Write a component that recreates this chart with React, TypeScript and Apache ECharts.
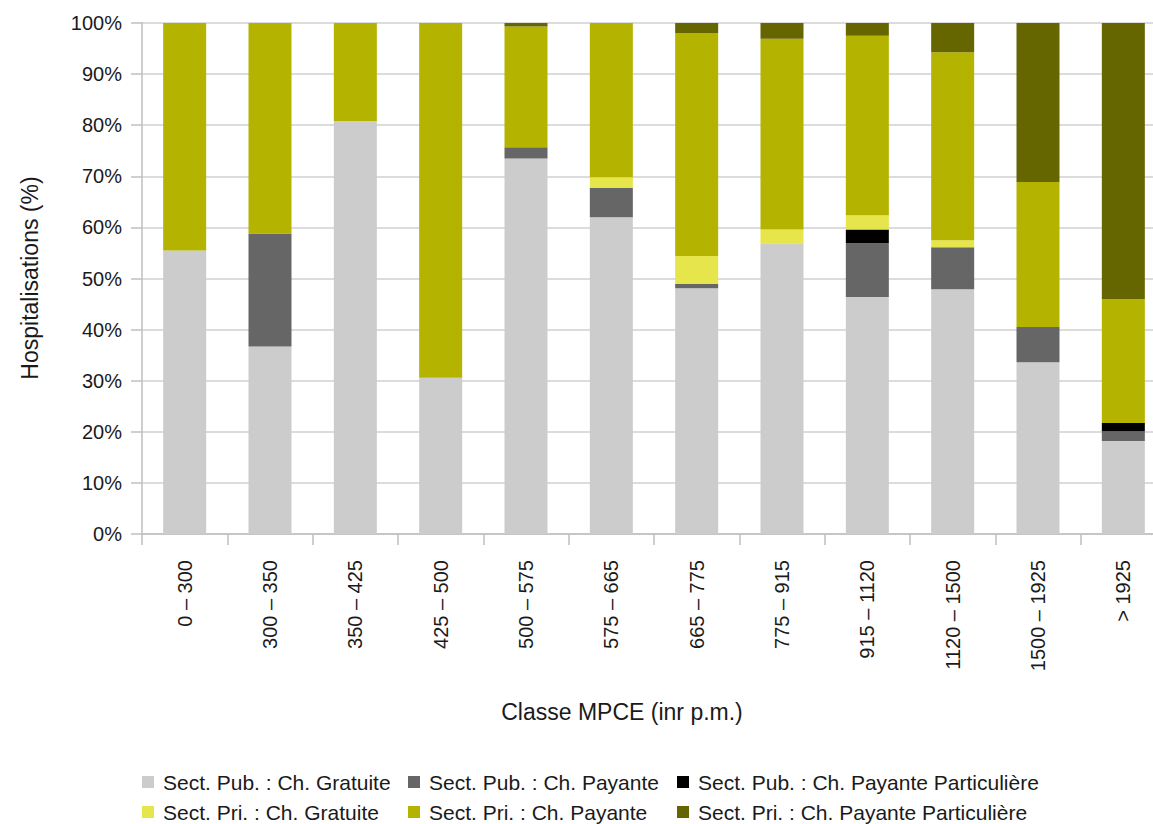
import React, { useEffect, useRef } from "react";
import * as echarts from "echarts";

const categories = [
  "0 – 300", "300 – 350", "350 – 425", "425 – 500", "500 – 575", "575 – 665",
  "665 – 775", "775 – 915", "915 – 1120", "1120 – 1500", "1500 – 1925", "> 1925",
];

const seriesNames = [
  "Sect. Pub. : Ch. Gratuite",
  "Sect. Pub. : Ch. Payante",
  "Sect. Pub. : Ch. Payante Particulière",
  "Sect. Pri. : Ch. Gratuite",
  "Sect. Pri. : Ch. Payante",
  "Sect. Pri. : Ch. Payante Particulière",
];

const pubGratuite = [55.5, 36.7, 80.8, 30.6, 73.5, 62.0, 48.1, 56.9, 46.4, 47.9, 33.6, 18.2];
const pubPayante = [0, 22.1, 0, 0, 2.2, 5.7, 0.8, 0, 10.5, 8.2, 6.9, 1.9];
const pubParticuliere = [0, 0, 0, 0, 0, 0, 0, 0, 2.7, 0, 0, 1.6];
const priGratuite = [0, 0, 0, 0, 0, 2.1, 5.5, 2.7, 2.8, 1.4, 0, 0];
const priPayante = [44.5, 41.2, 19.2, 69.4, 23.6, 30.2, 43.6, 37.3, 35.1, 36.8, 28.4, 24.3];
const priParticuliere = [0, 0, 0, 0, 0.7, 0, 2.0, 3.1, 2.5, 5.7, 31.1, 54.0];

const seriesData = [pubGratuite, pubPayante, pubParticuliere, priGratuite, priPayante, priParticuliere];
const colors = ["#cccccc", "#666666", "#000000", "#e6e64c", "#b3b300", "#666600"];

const yTicks = [0, 10, 20, 30, 40, 50, 60, 70, 80, 90, 100];

const xAxisTitle = "Classe MPCE (inr p.m.)";
const yAxisTitle = "Hospitalisations (%)";

const FONT = "'Liberation Sans', Arial, sans-serif";
const TEXT = "#1a1a1a";

export default function App() {
  const ref = useRef<HTMLDivElement>(null);

  useEffect(() => {
    if (!ref.current) return;
    const chart = echarts.init(ref.current, null, { renderer: "svg" });

    const legendCols = [142, 408, 677];
    const legendRows = [771, 801];
    const legends = seriesNames.map((name, i) => ({
      data: [name],
      left: legendCols[i % 3],
      top: legendRows[Math.floor(i / 3)],
      itemWidth: 12,
      itemHeight: 12,
      itemGap: 0,
      padding: 0,
      icon: "rect",
      selectedMode: false,
      textStyle: {
        fontFamily: FONT,
        fontSize: 21,
        color: TEXT,
        lineHeight: 22,
        padding: [0, 0, 0, 4],
      },
    }));

    chart.setOption({
      animation: false,
      color: colors,
      grid: { left: 142, top: 23, width: 1024, height: 511, containLabel: false },
      legend: legends,
      xAxis: {
        type: "category",
        data: categories,
        axisLine: { lineStyle: { color: "#bfbfbf", width: 1.5 } },
        axisTick: { show: true, length: 11, inside: false, alignWithLabel: false, lineStyle: { color: "#bfbfbf", width: 1.5 } },
        axisLabel: {
          rotate: 90,
          margin: 26,
          fontFamily: FONT,
          fontSize: 20,
          color: TEXT,
          interval: 0,
        },
        splitLine: { show: false },
      },
      yAxis: {
        type: "value",
        min: yTicks[0],
        max: yTicks[yTicks.length - 1],
        interval: 10,
        axisLine: { show: true, lineStyle: { color: "#bfbfbf", width: 1.5 } },
        axisTick: { show: true, length: 11, lineStyle: { color: "#bfbfbf", width: 1.5 } },
        axisLabel: {
          formatter: "{value}%",
          margin: 20,
          fontFamily: FONT,
          fontSize: 20,
          color: TEXT,
        },
        splitLine: { show: true, lineStyle: { color: "#d0d0d0", width: 1.5 } },
      },
      graphic: [
        {
          type: "text",
          x: 622,
          y: 712,
          style: {
            text: xAxisTitle,
            font: `23px ${FONT}`,
            fill: TEXT,
            align: "center",
            verticalAlign: "middle",
          },
        },
        {
          type: "text",
          x: 30,
          y: 278,
          rotation: Math.PI / 2,
          style: {
            text: yAxisTitle,
            font: `23px ${FONT}`,
            fill: TEXT,
            align: "center",
            verticalAlign: "middle",
          },
        },
      ],
      series: seriesNames.map((name, i) => ({
        name,
        type: "bar",
        stack: "total",
        barWidth: 43,
        data: seriesData[i],
        itemStyle: { color: colors[i] },
      })),
    });

    return () => chart.dispose();
  }, []);

  return (
    <div style={{ position: "absolute", left: 0, top: 0, width: 1153, height: 824, overflow: "hidden", background: "#fff" }}>
      <div ref={ref} style={{ width: 1175, height: 824 }} />
    </div>
  );
}
